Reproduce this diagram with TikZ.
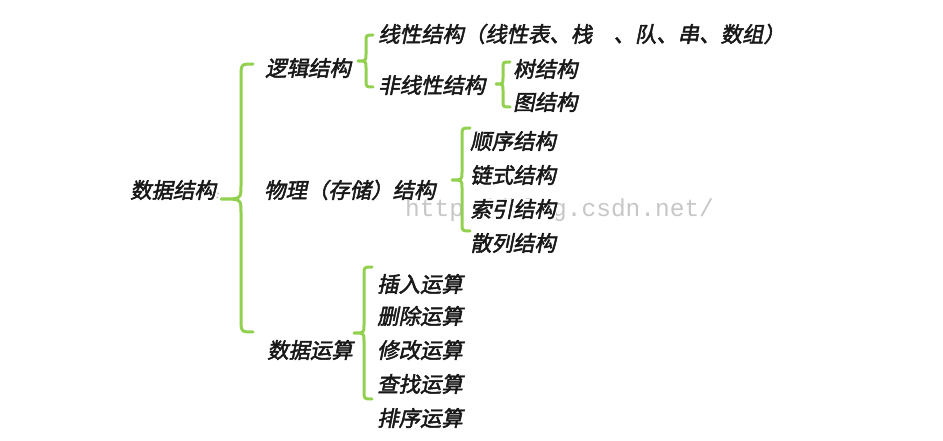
\documentclass[tikz,border=0pt]{standalone}
\usepackage{fontspec}
\newfontfamily\cjk[FakeSlant=0.2,FakeBold=2.2]{Noto Sans CJK SC}
\newfontfamily\markfont{Liberation Mono}
\usepackage{xcolor}
\usetikzlibrary{positioning}
\definecolor{leaf}{HTML}{92D050}
\definecolor{ink}{HTML}{181818}

\begin{document}
\begin{tikzpicture}[x=1pt,y=-1pt,
    item/.style={font=\cjk\fontsize{21.4}{21.4}\selectfont,text=ink,anchor=west,inner sep=0pt},
    gbrace/.style={draw=leaf,line width=3pt,line cap=round,line join=round},
    wmark/.style={font=\markfont\fontsize{24.5}{24.5}\selectfont,text=black!22,anchor=west,inner sep=0pt}]

    \useasboundingbox[fill=white] (0,0) rectangle (943,441);

    % watermark sits behind the text
    \node[wmark] (wm) at (405,210) {http://blog.csdn.net/};

    \node[item] (ds) at (130,190) {数据结构{\color{black!30}\fontsize{10}{10}\selectfont :}};

    \node[item] (logic) at (265,68) {逻辑结构};
    \node[item] (phys) at (264,190) {物理（存储）结构};
    \node[item] (ops) at (267,350) {数据运算};

    \node[item] (lin) at (378,34) {线性结构（线性表、栈　、队、串、数组）};
    \node[item] (nonlin) at (378,85) {非线性结构};
    \node[item] (tree) at (513,69) {树结构};
    \node[item] (graph) at (513,102) {图结构};

    \node[item] (seq) at (470,141) {顺序结构};
    \node[item] (link) at (470,175) {链式结构};
    \node[item,fill=white] (idx) at (470,209) {索引结构};
    \node[item] (hash) at (470,243) {散列结构};

    \node[item] (ins) at (377,284) {插入运算};
    \node[item] (del) at (377,316) {删除运算};
    \node[item] (mod) at (377,350) {修改运算};
    \node[item] (find) at (377,384) {查找运算};
    \node[item] (sort) at (377,418) {排序运算};

    % braces
    \draw[gbrace] (253,64) .. controls (241,64) .. (241,78) -- (241,186)
        .. controls (241,199) .. (221,199) .. controls (241,199) .. (241,212)
        -- (241,318) .. controls (241,332) .. (253,332);
    \draw[gbrace] (373,35) .. controls (366,35) .. (366,42) -- (366,54)
        .. controls (366,61) .. (358,61) .. controls (366,61) .. (366,68)
        -- (366,80) .. controls (366,87) .. (373,87);
    \draw[gbrace] (510,62) .. controls (503,62) .. (503,68) -- (503,78)
        .. controls (503,84) .. (496,84) .. controls (503,84) .. (503,90)
        -- (503,101) .. controls (503,107) .. (510,107);
    \draw[gbrace] (470,128) .. controls (462,128) .. (462,136) -- (462,172)
        .. controls (462,180) .. (452,180) .. controls (462,180) .. (462,188)
        -- (462,223) .. controls (462,231) .. (470,231);
    \draw[gbrace] (372,267) .. controls (364,267) .. (364,275) -- (364,325)
        .. controls (364,333) .. (354,333) .. controls (364,333) .. (364,341)
        -- (364,391) .. controls (364,399) .. (372,399);
\end{tikzpicture}
\end{document}
